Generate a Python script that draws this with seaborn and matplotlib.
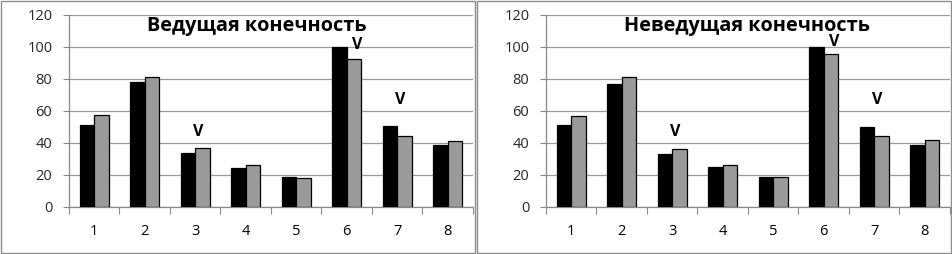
import matplotlib
matplotlib.use("Agg")
import matplotlib.pyplot as plt
import seaborn as sns
import pandas as pd
from matplotlib.patches import Rectangle

categories = ["1", "2", "3", "4", "5", "6", "7", "8"]
titles = ["Ведущая конечность", "Неведущая конечность"]
left_black = [51, 78, 34, 24.6, 19, 100, 50.6, 38.8]
left_gray = [57.3, 81, 37, 26, 18, 92.5, 44.6, 41.3]
right_black = [51, 76.7, 33, 25, 18.8, 100, 50.3, 39]
right_gray = [57.1, 81, 36.3, 26.3, 18.6, 95.5, 44.6, 41.6]
yticks = [0, 20, 40, 60, 80, 100, 120]
v_marks_left = {"3": 47, "6": 101, "7": 67}
v_marks_right = {"3": 47, "6": 103, "7": 67}

sns.set_theme(style="white")
plt.rcParams['font.family'] = ['Open Sans', 'DejaVu Sans']

fig = plt.figure(figsize=(9.53, 2.54), dpi=100)

# panel borders
fig.patches.append(Rectangle((1/953, 1/254), 474/953, 252/254, transform=fig.transFigure,
                             fill=False, edgecolor="#8c8c8c", linewidth=1.0))
fig.patches.append(Rectangle((477/953, 1/254), 474/953, 252/254, transform=fig.transFigure,
                             fill=False, edgecolor="#8c8c8c", linewidth=1.0))

panels = [
    (69/953, titles[0], left_black, left_gray, v_marks_left, 0.465),
    (546/953, titles[1], right_black, right_gray, v_marks_right, 0.498),
]

for x0, title, blk, gry, vmarks, tx in panels:
    ax = fig.add_axes([x0, 47/254, 404/953, 192/254])
    df = pd.DataFrame({
        "cat": categories * 2,
        "val": blk + gry,
        "grp": ["a"] * len(categories) + ["b"] * len(categories),
    })
    sns.barplot(data=df, x="cat", y="val", hue="grp", order=categories,
                palette=["#000000", "#9a9a9a"], width=0.58, gap=0,
                edgecolor="#000000", linewidth=0.9, saturation=1,
                legend=False, ax=ax, zorder=3)
    ax.set_xlim(-0.5, 7.5)
    ax.set_ylim(0, 120)
    ax.set_yticks(yticks)
    ax.set_yticklabels([str(t) for t in yticks], fontsize=10.5)
    ax.set_xlabel("")
    ax.set_ylabel("")
    ax.set_xticks(range(len(categories)))
    ax.set_xticklabels(categories, fontsize=10.5)
    ax.set_xticks([i - 0.5 for i in range(len(categories) + 1)], minor=True)
    ax.tick_params(axis="x", which="major", length=0, pad=12, colors="#000000")
    ax.tick_params(axis="x", which="minor", length=5, width=0.8, color="#888888", direction="out", bottom=True)
    ax.tick_params(axis="y", which="major", length=4, width=0.8, color="#888888", direction="out", left=True, pad=8)
    for s in ["top", "right"]:
        ax.spines[s].set_visible(False)
    for s in ["left", "bottom"]:
        ax.spines[s].set_color("#888888")
        ax.spines[s].set_linewidth(0.9)
    ax.yaxis.grid(True, color="#999999", linewidth=0.9, zorder=0)
    ax.set_axisbelow(True)
    ax.set_facecolor("white")
    ax.text(tx, 0.917, title, transform=ax.transAxes, ha="center", va="baseline",
            fontsize=14.3, fontweight="bold", color="#000000")
    for cat, yv in vmarks.items():
        i = categories.index(cat)
        dx = 0.2 if cat == "6" else 0.05
        ax.text(i + dx, yv, "V", ha="center", va="center", fontsize=11.5,
                fontweight="bold", color="#000000")

fig.savefig("out.png", dpi=100, facecolor="white")
